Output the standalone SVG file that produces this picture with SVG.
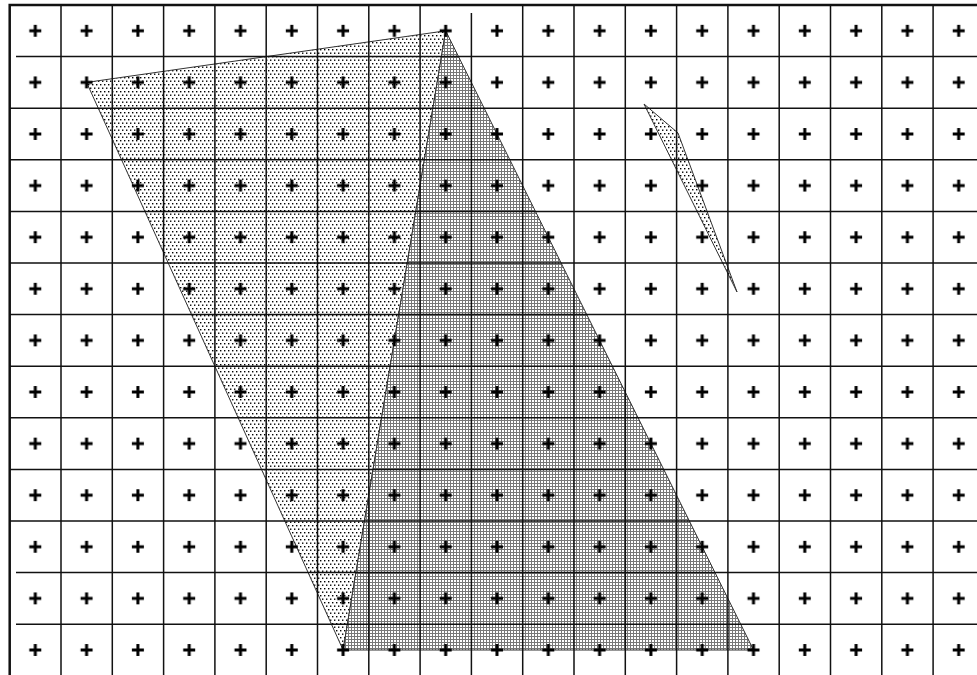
<svg xmlns="http://www.w3.org/2000/svg" width="977" height="675" viewBox="0 0 977 675">
  <defs>
    <pattern id="dots" patternUnits="userSpaceOnUse" width="4" height="7">
      <rect x="0" y="0" width="1.4" height="1.4" fill="#000"/>
      <rect x="2" y="3.5" width="1.4" height="1.4" fill="#000"/>
    </pattern>
    <pattern id="mesh" patternUnits="userSpaceOnUse" width="3" height="3">
      <rect width="3" height="3" fill="#fff"/>
      <rect x="0" y="0" width="1" height="3" fill="#777"/>
      <rect x="0" y="0" width="3" height="1" fill="#777"/>
    </pattern>
    <pattern id="plus" patternUnits="userSpaceOnUse" x="9.7" y="5" width="51.3" height="51.6">
      <path d="M19.6,25.8H31.6M25.6,19.8V31.8" stroke="#000" stroke-width="3" fill="none"/>
    </pattern>
  </defs>
  <style>
    .shape { stroke: #333; stroke-width: 1; stroke-linejoin: round; }
    .grid { stroke: #111; stroke-width: 1.5; fill: none; }
    .border { stroke: #111; stroke-width: 2.5; fill: none; }
  </style>
  <rect width="977" height="675" fill="#fff"/>

  <g id="shapes">
    <polygon id="light" class="shape" fill="url(#dots)" points="86.6,82.4 445.7,30.8 343.1,650"/>
    <polygon id="dark" class="shape" fill="url(#mesh)" points="445.7,30.8 753.5,650 343.1,650"/>
    <polygon id="sliver" class="shape" fill="url(#dots)" points="644,104 678,133 737,292"/>
  </g>

  <g id="grid">
    <path class="grid" d="M61,5V675M112.3,5V675M163.6,5V675M214.9,5V675M266.2,5V675M317.5,5V675M368.8,5V675M420.1,5V675M471.4,13V675M522.7,5V675M574,5V675M625.3,5V675M676.6,5V675M727.9,5V675M779.2,5V675M830.5,5V675M881.8,5V675M933.1,5V675"/>
    <path class="grid" d="M16,56.6H977M9.7,108.2H977M9.7,159.8H977M9.7,211.4H977M9.7,263H977M9.7,314.6H977M9.7,366.2H977M9.7,417.8H977M9.7,469.4H977M9.7,521H977M16,572.6H977M16,624.2H977"/>
    <path class="border" d="M9.7,675V5H977"/>
  </g>

  <rect id="markers" x="9.7" y="5" width="967.3" height="670" fill="url(#plus)"/>
</svg>
